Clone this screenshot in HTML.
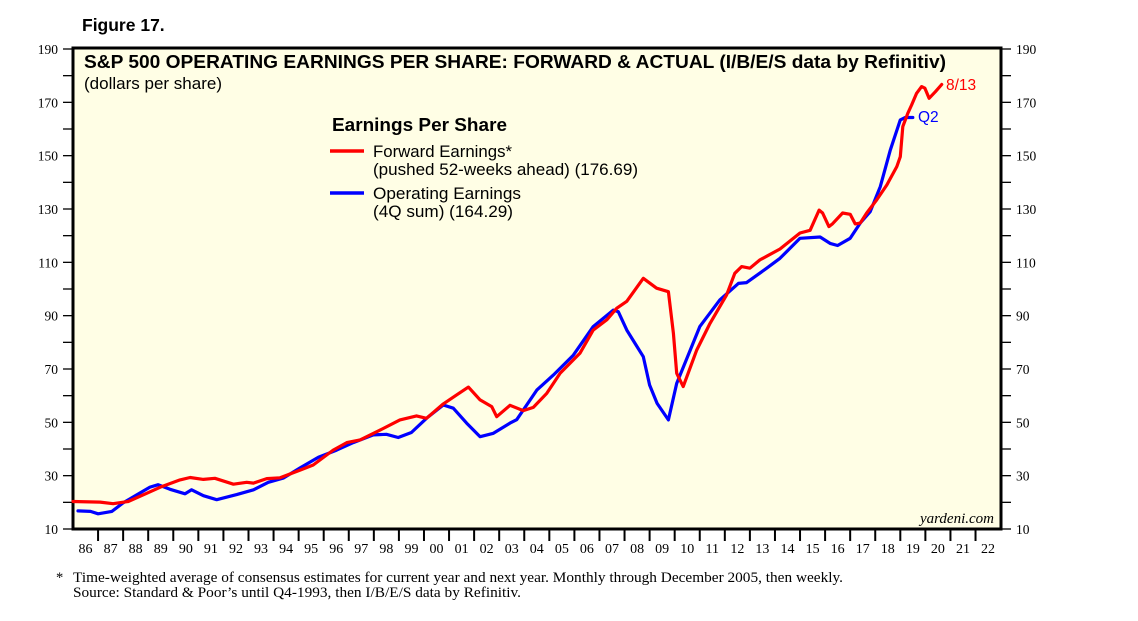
<!DOCTYPE html>
<html><head><meta charset="utf-8"><style>
html,body{margin:0;padding:0;background:#fff;}
svg{display:block;font-family:"Liberation Sans",sans-serif;}
</style></head><body>
<svg id="chart" width="1138" height="621" viewBox="0 0 1138 621">
<text x="82" y="31" font-size="17.5" font-weight="bold">Figure 17.</text>
<rect x="73" y="48" width="928" height="481" fill="#FFFEE5" stroke="#000" stroke-width="3"/>
<g id="axes"></g>
<g id="series"></g>
<text x="84" y="68" font-size="18.5" font-weight="bold" textLength="862" lengthAdjust="spacingAndGlyphs">S&amp;P 500 OPERATING EARNINGS PER SHARE: FORWARD &amp; ACTUAL (I/B/E/S data by Refinitiv)</text>
<text x="84" y="89" font-size="16.5" textLength="138" lengthAdjust="spacingAndGlyphs">(dollars per share)</text>
<g>
<text x="332" y="131" font-size="18.5" font-weight="bold" textLength="175" lengthAdjust="spacingAndGlyphs">Earnings Per Share</text>
<line x1="330" y1="151" x2="364" y2="151" stroke="#f00" stroke-width="3.5"/>
<text x="373" y="157" font-size="16.5" textLength="139" lengthAdjust="spacingAndGlyphs">Forward Earnings*</text>
<text x="373" y="175" font-size="16.5" textLength="265" lengthAdjust="spacingAndGlyphs">(pushed 52-weeks ahead) (176.69)</text>
<line x1="330" y1="193" x2="364" y2="193" stroke="#00f" stroke-width="3.5"/>
<text x="373" y="199" font-size="16.5" textLength="148" lengthAdjust="spacingAndGlyphs">Operating Earnings</text>
<text x="373" y="217" font-size="16.5" textLength="140" lengthAdjust="spacingAndGlyphs">(4Q sum) (164.29)</text>
</g>
<text x="946" y="90" font-size="15.5" fill="#f00">8/13</text>
<text x="918" y="122" font-size="15.5" fill="#00f">Q2</text>
<text x="994" y="523" font-size="15" font-style="italic" text-anchor="end" font-family="Liberation Serif, serif">yardeni.com</text>
<g font-family="Liberation Serif, serif" font-size="14.5">
<text x="56" y="582">*</text>
<text x="73" y="582" textLength="770" lengthAdjust="spacingAndGlyphs">Time-weighted average of consensus estimates for current year and next year. Monthly through December 2005, then weekly.</text>
<text x="73" y="597" textLength="448" lengthAdjust="spacingAndGlyphs">Source: Standard &amp; Poor’s until Q4-1993, then I/B/E/S data by Refinitiv.</text>
</g>
</svg>
<script>
const yTicks=[10,30,50,70,90,110,130,150,170,190];
const yearLabels=["86","87","88","89","90","91","92","93","94","95","96","97","98","99","00","01","02","03","04","05","06","07","08","09","10","11","12","13","14","15","16","17","18","19","20","21","22"];
const fwdT=[1986.0,1987.08,1987.6,1988.2,1988.94,1989.54,1990.27,1990.67,1991.2,1991.66,1992.4,1992.93,1993.2,1993.73,1994.26,1995.06,1995.58,1996.38,1996.92,1997.45,1998.25,1999.04,1999.7,2000.1,2000.77,2001.3,2001.77,2002.24,2002.7,2002.9,2003.43,2003.96,2004.36,2004.9,2005.43,2006.22,2006.75,2007.29,2007.69,2008.09,2008.75,2009.28,2009.75,2009.95,2010.08,2010.34,2010.88,2011.41,2012.07,2012.4,2012.67,2013.0,2013.4,2014.2,2015.0,2015.4,2015.76,2015.9,2016.15,2016.3,2016.7,2017.0,2017.2,2017.4,2017.66,2018.06,2018.46,2018.86,2019.0,2019.1,2019.3,2019.45,2019.65,2019.85,2019.98,2020.15,2020.4,2020.65];
const fwdV=[20.3,20.1,19.5,20.3,23.4,25.9,28.4,29.3,28.6,29,26.8,27.5,27.2,28.9,29.2,32.1,34,39.6,42.4,43.4,47.1,50.9,52.4,51.5,56.9,60.3,63.2,58.4,55.9,52.1,56.4,54.4,55.6,60.9,68.4,75.9,84.6,88.4,92.8,95.4,104,100.3,99,83.4,68.4,63.4,77.1,87.1,97.8,105.9,108.4,107.8,110.9,115,121,122,129.6,128.5,123.4,124.5,128.5,128,124.4,124.7,128.5,133.4,139,145.9,149.6,160.9,165.9,169,173.4,175.9,175.3,171.5,174,176.7];
const opT=[1986.2,1986.7,1987.0,1987.55,1988.0,1988.54,1989.07,1989.4,1989.87,1990.47,1990.73,1991.2,1991.73,1992.53,1993.2,1993.79,1994.39,1995.06,1995.79,1996.52,1997.18,1997.98,1998.5,1998.97,1999.5,2000.1,2000.77,2001.17,2001.7,2002.24,2002.77,2003.43,2003.7,2004.5,2005.16,2005.96,2006.75,2007.55,2007.75,2008.09,2008.75,2009.0,2009.3,2009.75,2010.08,2011.0,2011.8,2012.54,2012.87,2013.67,2014.2,2015.0,2015.8,2016.2,2016.5,2017.0,2017.4,2017.8,2018.2,2018.6,2019.0,2019.2,2019.5];
const opV=[16.8,16.6,15.7,16.6,19.8,22.8,25.7,26.6,24.9,23.2,24.7,22.5,21,22.9,24.7,27.5,29.1,32.9,36.9,39.6,42.4,45.3,45.5,44.3,46.2,51.5,56.5,55.3,49.7,44.6,45.9,49.7,51,62.1,67.7,75.2,85.9,92.1,91.5,84.6,74.6,64,57.1,50.9,64.6,85.9,95.9,102.1,102.4,107.8,111.5,119,119.5,117.1,116.3,119,124.7,129,138.4,152.1,163.4,164.3,164.3];
const NS="http://www.w3.org/2000/svg";
const X0=73,YW=25.07,Y0=49,YS=480/180;
function xs(t){return X0+(t-1986)*YW;}
function ys(v){return Y0+(190-v)*YS;}
function mk(tag,attrs,parent){const e=document.createElementNS(NS,tag);for(const k in attrs)e.setAttribute(k,attrs[k]);parent.appendChild(e);return e;}
const ax=document.getElementById('axes');
for(let v=10;v<=190;v+=10){
  const l=mk('line',{x1:63,x2:73,y1:ys(v),y2:ys(v),stroke:'#000','stroke-width':1.3},ax);
  
  
  const r=mk('line',{x1:1001,x2:1011,y1:ys(v),y2:ys(v),stroke:'#000','stroke-width':1.3},ax);
  
  
}
yTicks.forEach(v=>{
  const a=mk('text',{x:58,y:ys(v)+5,'font-size':13.5,'text-anchor':'end','font-family':'Liberation Serif, serif'},ax);
  a.textContent=v;
  
  
  const b=mk('text',{x:1016,y:ys(v)+5,'font-size':13.5,'font-family':'Liberation Serif, serif'},ax);
  b.textContent=v;
  
  
});
yearLabels.forEach((lab,i)=>{
  if(i>0){const tk=mk('line',{x1:xs(1986+i),x2:xs(1986+i),y1:529,y2:541,stroke:'#000','stroke-width':2},ax);
  
  }
  const t=mk('text',{x:xs(1986.5+i),y:553,'font-size':14,'text-anchor':'middle','font-family':'Liberation Serif, serif'},ax);
  t.textContent=lab;
  
  
});
const sg=document.getElementById('series');
function line(T,V,color,name){
  const d=T.map((t,i)=>(i?'L':'M')+xs(t).toFixed(1)+','+ys(V[i]).toFixed(1)).join('');
  const p=mk('path',{d:d,fill:'none',stroke:color,'stroke-width':3.2,'stroke-linejoin':'round','stroke-linecap':'round'},sg);
  
  
}
line(opT,opV,'#0000ff','operating-earnings-line');
line(fwdT,fwdV,'#ff0000','forward-earnings-line');
</script>
</body></html>
